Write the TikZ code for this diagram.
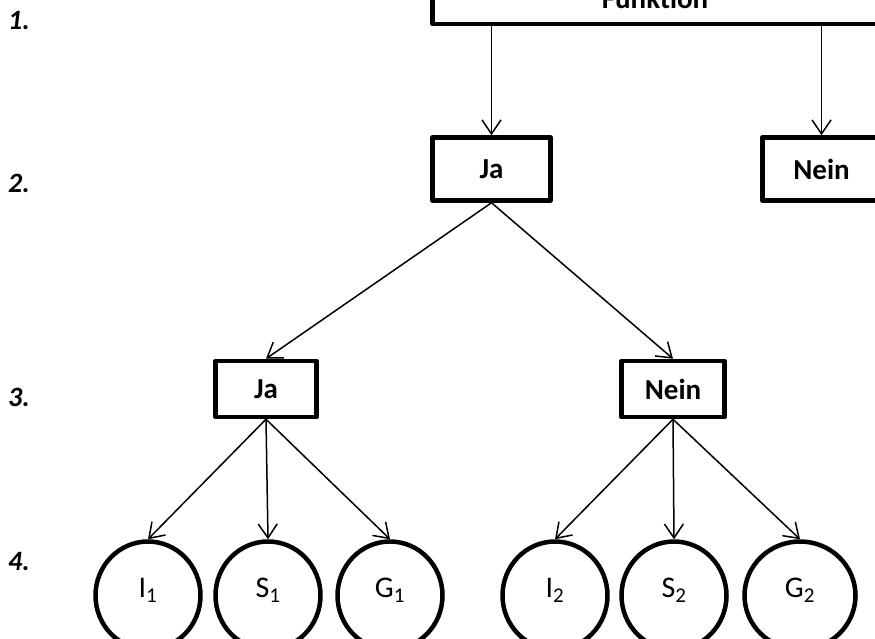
\documentclass[tikz,border=0pt]{standalone}
\usepackage{fontspec}
\setmainfont{Carlito}
\usetikzlibrary{shapes.geometric,arrows.meta}
\begin{document}
\begin{tikzpicture}[x=1pt,y=-1pt,
	box/.style = {draw, line width=4.5pt, line join=round, minimum width=118pt, minimum height=63pt,
		font=\fontsize{29}{33}\selectfont\bfseries},
	leaf/.style = {draw, ellipse, line width=4.5pt, minimum width=105pt, minimum height=108pt,
		inner sep=0pt, text height=21pt, text depth=17pt, font=\fontsize{30}{34}\selectfont},
	lvl/.style = {anchor=west, inner sep=0pt, font=\fontsize{28}{32}\selectfont\bfseries\itshape},
	arr/.style = {-{Straight Barb[length=14pt,width=19pt,line width=1.5pt]}, line width=1.5pt}]
	\useasboundingbox (0,0) rectangle (875,639);
	\clip (0,0) rectangle (875,639);
	% levels
	\node[lvl] (l1) at (8,21) {1.};
	\node[lvl] (l2) at (8,183) {2.};
	\node[lvl] (l3) at (8,397) {3.};
	\node[lvl] (l4) at (8,562) {4.};
	% boxes
	\node[box, minimum width=445pt, minimum height=52pt] (fkt) at (655,-2) {Funktion};
	\node[box] (ja) at (491.5,169) {Ja};
	\node[box, right of=ja, node distance=330pt] (nein) {Nein};
	\node[box, minimum width=101pt, minimum height=56pt] (ja2) at (266,389) {Ja};
	\node[box, minimum width=103pt, minimum height=56pt, right of=ja2, node distance=407pt] (nein2) {Nein};
	% leaves
	\node[leaf] (i1) at (148,595.5) {I\textsubscript{1}};
	\node[leaf, right of=i1, node distance=120pt] (s1) {S\textsubscript{1}};
	\node[leaf, right of=s1, node distance=122pt] (g1) {G\textsubscript{1}};
	\node[leaf] (i2) at (555,595.5) {I\textsubscript{2}};
	\node[leaf, right of=i2, node distance=119pt] (s2) {S\textsubscript{2}};
	\node[leaf, minimum width=111pt, right of=s2, node distance=126pt] (g2) {G\textsubscript{2}};
	% connectors
	\draw[arr] (fkt.south -| ja.north) -- (ja.north);
	\draw[arr] (fkt.south -| nein.north) -- (nein.north);
	\draw[arr] (ja.south) -- (ja2.north);
	\draw[arr] (ja.south) -- (nein2.north);
	\draw[arr] (ja2.south) -- (i1.north);
	\draw[arr] (ja2.south) -- (s1.north);
	\draw[arr] (ja2.south) -- (g1.north);
	\draw[arr] (nein2.south) -- (i2.north);
	\draw[arr] (nein2.south) -- (s2.north);
	\draw[arr] (nein2.south) -- (g2.north);
\end{tikzpicture}
\end{document}
